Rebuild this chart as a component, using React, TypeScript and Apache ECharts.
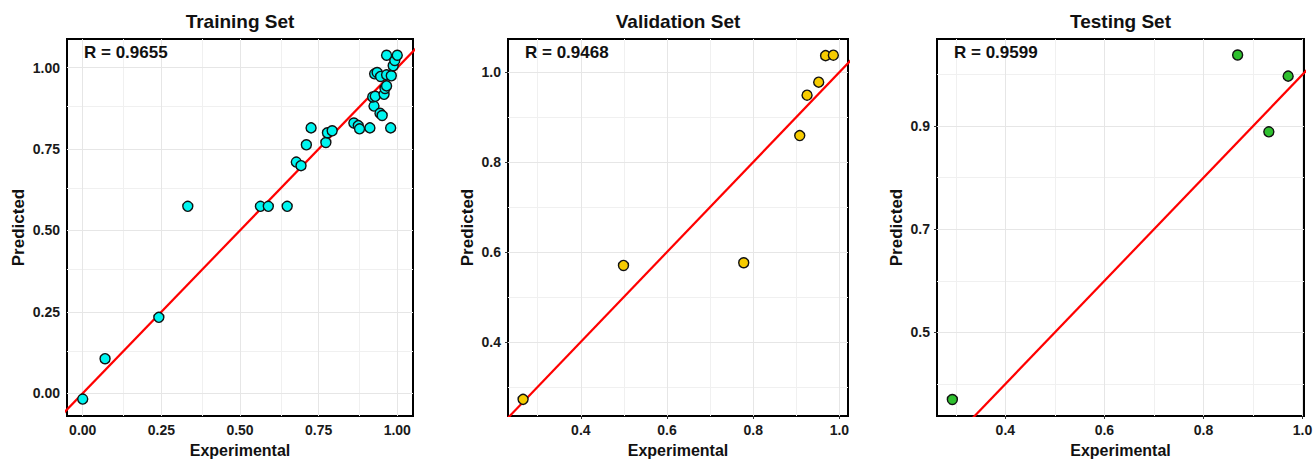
import React, { useEffect, useRef } from "react";
import * as echarts from "echarts";

// ---------- data ----------
const panelTitles = ["Training Set", "Validation Set", "Testing Set"];
const rLabels = ["R = 0.9655", "R = 0.9468", "R = 0.9599"];

const trainExperimental = [
  0.0, 0.071, 0.242, 0.334, 0.565, 0.59, 0.65, 0.679, 0.694, 0.711, 0.726, 0.773,
  0.778, 0.793, 0.862, 0.876, 0.88, 0.913, 0.979, 0.926, 0.922, 0.93, 0.945, 0.952,
  0.958, 0.961, 0.966, 0.928, 0.936, 0.947, 0.966, 0.981, 0.987, 0.992, 0.966, 1.0,
];
const trainPredicted = [
  -0.018, 0.106, 0.233, 0.574, 0.574, 0.574, 0.574, 0.71, 0.699, 0.763, 0.815, 0.77,
  0.8, 0.806, 0.83, 0.822, 0.812, 0.815, 0.815, 0.882, 0.91, 0.912, 0.86, 0.853,
  0.918, 0.936, 0.944, 0.981, 0.985, 0.973, 0.978, 0.975, 1.006, 1.022, 1.038, 1.038,
];

const validExperimental = [0.266, 0.499, 0.778, 0.908, 0.925, 0.952, 0.968, 0.986];
const validPredicted = [0.272, 0.57, 0.576, 0.859, 0.949, 0.978, 1.037, 1.038];

const testExperimental = [0.293, 0.869, 0.932, 0.971];
const testPredicted = [0.37, 1.038, 0.889, 0.997];

// tick labels (major) and minor grid positions
const trainXTicks = [0, 0.25, 0.5, 0.75, 1.0];
const trainYTicks = [0, 0.25, 0.5, 0.75, 1.0];
const trainXMinor = [0.125, 0.375, 0.625, 0.875];
const trainYMinor = [0.125, 0.375, 0.625, 0.875];

const validXTicks = [0.4, 0.6, 0.8, 1.0];
const validYTicks = [0.4, 0.6, 0.8, 1.0];
const validXMinor = [0.3, 0.5, 0.7, 0.9];
const validYMinor = [0.3, 0.5, 0.7, 0.9];

const testXTicks = [0.4, 0.6, 0.8, 1.0];
const testYTicks = [0.5, 0.7, 0.9];
const testXMinor = [0.3, 0.5, 0.7, 0.9];
const testYMinor = [0.4, 0.6, 0.8, 1.0];

// axis ranges
const trainRange = { xMin: -0.05, xMax: 1.05, yMin: -0.07, yMax: 1.088 };
const validRange = { xMin: 0.231, xMax: 1.02, yMin: 0.235, yMax: 1.074 };
const testRange = { xMin: 0.262, xMax: 1.003, yMin: 0.338, yMax: 1.069 };

// ---------- layout / style ----------
const gridBoxes = [
  { left: 67, top: 39, width: 346, height: 377 },
  { left: 508, top: 39, width: 340, height: 377 },
  { left: 937, top: 39, width: 367, height: 377 },
];
const pointColors = ["#00f5f0", "#f7cc00", "#2fc02f"];
const yNameGaps = [40, 32, 32];
const decimals = [2, 1, 1];
const FONT = "'Liberation Sans', Arial, Helvetica, sans-serif";

const panels = [
  {
    xs: trainExperimental, ys: trainPredicted, range: trainRange,
    xTicks: trainXTicks, yTicks: trainYTicks, xMinor: trainXMinor, yMinor: trainYMinor,
  },
  {
    xs: validExperimental, ys: validPredicted, range: validRange,
    xTicks: validXTicks, yTicks: validYTicks, xMinor: validXMinor, yMinor: validYMinor,
  },
  {
    xs: testExperimental, ys: testPredicted, range: testRange,
    xTicks: testXTicks, yTicks: testYTicks, xMinor: testXMinor, yMinor: testYMinor,
  },
];

function buildOption() {
  const grid: any[] = [];
  const xAxis: any[] = [];
  const yAxis: any[] = [];
  const series: any[] = [];
  const graphic: any[] = [];

  panels.forEach((p, i) => {
    const box = gridBoxes[i];
    grid.push({
      ...box,
      show: true,
      borderColor: "#000",
      borderWidth: 2,
      backgroundColor: "#fff",
      containLabel: false,
      outerBoundsMode: "none",
    });
    const fmt = (v: number) => v.toFixed(decimals[i]);
    const labelStyle = {
      color: "#1a1a1a",
      fontFamily: FONT,
      fontWeight: "bold",
      fontSize: 14,
    };
    xAxis.push({
      type: "value",
      gridIndex: i,
      min: p.range.xMin,
      max: p.range.xMax,
      name: "Experimental",
      nameLocation: "middle",
      nameGap: 22,
      nameTextStyle: { color: "#111", fontFamily: FONT, fontWeight: "bold", fontSize: 16, lineHeight: 18 },
      axisLine: { show: false },
      axisTick: { show: true, length: 3, customValues: p.xTicks, lineStyle: { color: "#333", width: 1 } },
      axisLabel: { ...labelStyle, margin: 7, customValues: p.xTicks, formatter: fmt, showMinLabel: true, showMaxLabel: true },
      splitLine: { show: false },
    });
    yAxis.push({
      type: "value",
      gridIndex: i,
      min: p.range.yMin,
      max: p.range.yMax,
      name: "Predicted",
      nameLocation: "middle",
      nameGap: yNameGaps[i],
      nameRotate: 90,
      nameTextStyle: { color: "#111", fontFamily: FONT, fontWeight: "bold", fontSize: 17 },
      axisLine: { show: false },
      axisTick: { show: true, length: 3, customValues: p.yTicks, lineStyle: { color: "#333", width: 1 } },
      axisLabel: { ...labelStyle, margin: 7, customValues: p.yTicks, formatter: fmt },
      splitLine: { show: false },
    });

    const majorStyle = { color: "#e6e6e6", width: 1, type: "solid" };
    const minorStyle = { color: "#f0f0f0", width: 1, type: "solid" };
    series.push({
      type: "line",
      xAxisIndex: i,
      yAxisIndex: i,
      data: [],
      silent: true,
      z: 1,
      markLine: {
        silent: true,
        z: 1,
        symbol: ["none", "none"],
        label: { show: false },
        animation: false,
        data: [
          ...p.xMinor.map((v) => ({ xAxis: v, lineStyle: minorStyle })),
          ...p.yMinor.map((v) => ({ yAxis: v, lineStyle: minorStyle })),
          ...p.xTicks.map((v) => ({ xAxis: v, lineStyle: majorStyle })),
          ...p.yTicks.map((v) => ({ yAxis: v, lineStyle: majorStyle })),
        ],
      },
    });

    // identity (1:1) reference line, clipped to the plot area
    const lo = Math.min(p.range.xMin, p.range.yMin) - 0.1;
    const hi = Math.max(p.range.xMax, p.range.yMax) + 0.1;
    series.push({
      type: "line",
      xAxisIndex: i,
      yAxisIndex: i,
      data: [
        [lo, lo],
        [hi, hi],
      ],
      symbol: "none",
      clip: true,
      silent: true,
      z: 6,
      lineStyle: { color: "#ff0000", width: 2.2 },
    });

    series.push({
      type: "scatter",
      xAxisIndex: i,
      yAxisIndex: i,
      data: p.xs.map((x, k) => [x, p.ys[k]]),
      symbol: "circle",
      symbolSize: 10,
      z: 8,
      itemStyle: { color: pointColors[i], borderColor: "#111", borderWidth: 1.4, opacity: 1 },
    });

    graphic.push({
      type: "text",
      x: box.left + box.width / 2,
      y: 21,
      style: {
        text: panelTitles[i],
        align: "center",
        verticalAlign: "middle",
        fill: "#111",
        font: `bold 19px ${FONT}`,
      },
    });
    graphic.push({
      type: "text",
      x: box.left + 17,
      y: 52,
      z: 10,
      style: {
        text: rLabels[i],
        align: "left",
        verticalAlign: "middle",
        fill: "#111",
        font: `bold 17px ${FONT}`,
      },
    });
  });

  return {
    animation: false,
    backgroundColor: "#ffffff",
    grid,
    xAxis,
    yAxis,
    series,
    graphic,
  };
}

export default function App() {
  const ref = useRef<HTMLDivElement | null>(null);
  useEffect(() => {
    if (!ref.current) return;
    const chart = echarts.init(ref.current, undefined, { renderer: "svg" });
    chart.setOption(buildOption() as any);
    return () => chart.dispose();
  }, []);
  return (
    <div
      ref={ref}
      style={{ position: "fixed", left: 0, top: 0, width: 1314, height: 460, background: "#fff" }}
    />
  );
}
